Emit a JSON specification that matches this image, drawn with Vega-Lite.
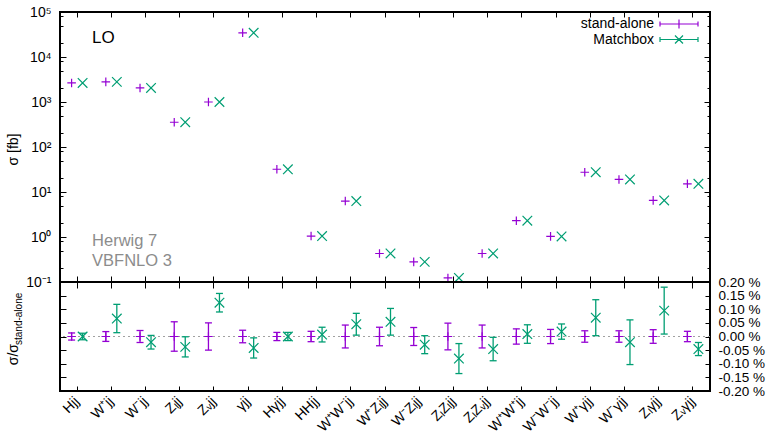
{
  "$schema": "https://vega.github.io/schema/vega-lite/v6.json",
  "padding": {"left": 5, "top": 4, "right": 0, "bottom": 0},
  "bounds": "flush",
  "spacing": 0,
  "config": {
    "font": "Liberation Sans",
    "view": {"stroke": "black", "strokeWidth": 2},
    "axis": {
      "grid": false, "domain": false,
      "labelFont": "Liberation Sans", "labelFontSize": 14, "labelColor": "black",
      "titleFont": "Liberation Sans", "titleFontSize": 14, "titleFontWeight": "normal", "titleColor": "black",
      "tickColor": "black", "tickWidth": 1,
      "labelOverlap": false, "labelBound": false, "labelFlush": false
    }
  },
  "datasets": {
    "xs": [
      {"proc": "Hjj", "series": "stand-alone", "sigma": 2650}, {"proc": "Hjj", "series": "Matchbox", "sigma": 2650},
      {"proc": "W⁺jj", "series": "stand-alone", "sigma": 2800}, {"proc": "W⁺jj", "series": "Matchbox", "sigma": 2800},
      {"proc": "W⁻jj", "series": "stand-alone", "sigma": 2050}, {"proc": "W⁻jj", "series": "Matchbox", "sigma": 2050},
      {"proc": "Zₗjj", "series": "stand-alone", "sigma": 355}, {"proc": "Zₗjj", "series": "Matchbox", "sigma": 355},
      {"proc": "Zᵥjj", "series": "stand-alone", "sigma": 1000}, {"proc": "Zᵥjj", "series": "Matchbox", "sigma": 1000},
      {"proc": "γjj", "series": "stand-alone", "sigma": 34500}, {"proc": "γjj", "series": "Matchbox", "sigma": 34500},
      {"proc": "Hγjj", "series": "stand-alone", "sigma": 32}, {"proc": "Hγjj", "series": "Matchbox", "sigma": 32},
      {"proc": "HHjj", "series": "stand-alone", "sigma": 1.05}, {"proc": "HHjj", "series": "Matchbox", "sigma": 1.05},
      {"proc": "W⁺W⁻jj", "series": "stand-alone", "sigma": 6.3}, {"proc": "W⁺W⁻jj", "series": "Matchbox", "sigma": 6.3},
      {"proc": "W⁺Zₗjj", "series": "stand-alone", "sigma": 0.43}, {"proc": "W⁺Zₗjj", "series": "Matchbox", "sigma": 0.43},
      {"proc": "W⁻Zₗjj", "series": "stand-alone", "sigma": 0.28}, {"proc": "W⁻Zₗjj", "series": "Matchbox", "sigma": 0.28},
      {"proc": "ZₗZₗjj", "series": "stand-alone", "sigma": 0.123}, {"proc": "ZₗZₗjj", "series": "Matchbox", "sigma": 0.123},
      {"proc": "ZₗZᵥjj", "series": "stand-alone", "sigma": 0.43}, {"proc": "ZₗZᵥjj", "series": "Matchbox", "sigma": 0.43},
      {"proc": "W⁺W⁺jj", "series": "stand-alone", "sigma": 2.3}, {"proc": "W⁺W⁺jj", "series": "Matchbox", "sigma": 2.3},
      {"proc": "W⁻W⁻jj", "series": "stand-alone", "sigma": 1.03}, {"proc": "W⁻W⁻jj", "series": "Matchbox", "sigma": 1.03},
      {"proc": "W⁺γjj", "series": "stand-alone", "sigma": 27.5}, {"proc": "W⁺γjj", "series": "Matchbox", "sigma": 27.5},
      {"proc": "W⁻γjj", "series": "stand-alone", "sigma": 19}, {"proc": "W⁻γjj", "series": "Matchbox", "sigma": 19},
      {"proc": "Zₗγjj", "series": "stand-alone", "sigma": 6.5}, {"proc": "Zₗγjj", "series": "Matchbox", "sigma": 6.5},
      {"proc": "Zᵥγjj", "series": "stand-alone", "sigma": 15.2}, {"proc": "Zᵥγjj", "series": "Matchbox", "sigma": 15.2}
    ],
    "ratio": [
      {"proc": "Hjj", "series": "stand-alone", "val": 0, "lo": -0.013, "hi": 0.013},
      {"proc": "W⁺jj", "series": "stand-alone", "val": 0, "lo": -0.018, "hi": 0.018},
      {"proc": "W⁻jj", "series": "stand-alone", "val": 0, "lo": -0.022, "hi": 0.022},
      {"proc": "Zₗjj", "series": "stand-alone", "val": 0, "lo": -0.054, "hi": 0.054},
      {"proc": "Zᵥjj", "series": "stand-alone", "val": 0, "lo": -0.05, "hi": 0.05},
      {"proc": "γjj", "series": "stand-alone", "val": 0, "lo": -0.023, "hi": 0.023},
      {"proc": "Hγjj", "series": "stand-alone", "val": 0, "lo": -0.015, "hi": 0.015},
      {"proc": "HHjj", "series": "stand-alone", "val": 0, "lo": -0.019, "hi": 0.019},
      {"proc": "W⁺W⁻jj", "series": "stand-alone", "val": 0, "lo": -0.042, "hi": 0.042},
      {"proc": "W⁺Zₗjj", "series": "stand-alone", "val": 0, "lo": -0.034, "hi": 0.034},
      {"proc": "W⁻Zₗjj", "series": "stand-alone", "val": 0, "lo": -0.033, "hi": 0.033},
      {"proc": "ZₗZₗjj", "series": "stand-alone", "val": 0, "lo": -0.049, "hi": 0.049},
      {"proc": "ZₗZᵥjj", "series": "stand-alone", "val": 0, "lo": -0.042, "hi": 0.042},
      {"proc": "W⁺W⁺jj", "series": "stand-alone", "val": 0, "lo": -0.028, "hi": 0.028},
      {"proc": "W⁻W⁻jj", "series": "stand-alone", "val": 0, "lo": -0.026, "hi": 0.026},
      {"proc": "W⁺γjj", "series": "stand-alone", "val": 0, "lo": -0.021, "hi": 0.021},
      {"proc": "W⁻γjj", "series": "stand-alone", "val": 0, "lo": -0.021, "hi": 0.021},
      {"proc": "Zₗγjj", "series": "stand-alone", "val": 0, "lo": -0.025, "hi": 0.025},
      {"proc": "Zᵥγjj", "series": "stand-alone", "val": 0, "lo": -0.019, "hi": 0.019},
      {"proc": "Hjj", "series": "Matchbox", "val": 0.0, "lo": -0.012, "hi": 0.012},
      {"proc": "W⁺jj", "series": "Matchbox", "val": 0.066, "lo": 0.014, "hi": 0.118},
      {"proc": "W⁻jj", "series": "Matchbox", "val": -0.021, "lo": -0.046, "hi": 0.004},
      {"proc": "Zₗjj", "series": "Matchbox", "val": -0.038, "lo": -0.075, "hi": -0.001},
      {"proc": "Zᵥjj", "series": "Matchbox", "val": 0.124, "lo": 0.09, "hi": 0.158},
      {"proc": "γjj", "series": "Matchbox", "val": -0.042, "lo": -0.079, "hi": -0.005},
      {"proc": "Hγjj", "series": "Matchbox", "val": 0.0, "lo": -0.015, "hi": 0.015},
      {"proc": "HHjj", "series": "Matchbox", "val": 0.007, "lo": -0.02, "hi": 0.034},
      {"proc": "W⁺W⁻jj", "series": "Matchbox", "val": 0.045, "lo": 0.005, "hi": 0.085},
      {"proc": "W⁺Zₗjj", "series": "Matchbox", "val": 0.054, "lo": 0.005, "hi": 0.103},
      {"proc": "W⁻Zₗjj", "series": "Matchbox", "val": -0.03, "lo": -0.063, "hi": 0.003},
      {"proc": "ZₗZₗjj", "series": "Matchbox", "val": -0.081, "lo": -0.136, "hi": -0.026},
      {"proc": "ZₗZᵥjj", "series": "Matchbox", "val": -0.046, "lo": -0.089, "hi": -0.003},
      {"proc": "W⁺W⁺jj", "series": "Matchbox", "val": 0.009, "lo": -0.025, "hi": 0.043},
      {"proc": "W⁻W⁻jj", "series": "Matchbox", "val": 0.018, "lo": -0.01, "hi": 0.046},
      {"proc": "W⁺γjj", "series": "Matchbox", "val": 0.069, "lo": 0.003, "hi": 0.135},
      {"proc": "W⁻γjj", "series": "Matchbox", "val": -0.021, "lo": -0.103, "hi": 0.061},
      {"proc": "Zₗγjj", "series": "Matchbox", "val": 0.095, "lo": 0.009, "hi": 0.181},
      {"proc": "Zᵥγjj", "series": "Matchbox", "val": -0.046, "lo": -0.07, "hi": -0.022}
    ],
    "notes": [
      {"proc": "Hjj", "sigma": 27000, "note": "LO", "kind": "order"},
      {"proc": "Hjj", "sigma": 0.8, "note": "Herwig 7", "kind": "tool"},
      {"proc": "Hjj", "sigma": 0.3, "note": "VBFNLO 3", "kind": "tool"}
    ],
    "zero": [{"zero": 0}]
  },
  "vconcat": [
    {
      "width": 650,
      "height": 270,
      "resolve": {"axis": {"x": "independent", "y": "independent"}},
      "layer": [
        {
          "data": {"name": "xs"},
          "transform": [{"filter": "datum.series === 'stand-alone'"}],
          "mark": {"type": "point", "shape": "M-1,0H1M0,-1V1", "filled": false, "size": 74, "strokeWidth": 1.2, "opacity": 1, "color": "#9400d3", "xOffset": -5.5},
          "encoding": {
            "x": {"field": "proc", "type": "nominal",
              "scale": {"type": "band", "domain": ["Hjj","W⁺jj","W⁻jj","Zₗjj","Zᵥjj","γjj","Hγjj","HHjj","W⁺W⁻jj","W⁺Zₗjj","W⁻Zₗjj","ZₗZₗjj","ZₗZᵥjj","W⁺W⁺jj","W⁻W⁻jj","W⁺γjj","W⁻γjj","Zₗγjj","Zᵥγjj"], "paddingInner": 0, "paddingOuter": 0},
              "axis": {"orient": "bottom", "labels": false, "tickSize": -6, "title": null}},
            "y": {"field": "sigma", "type": "quantitative",
              "scale": {"type": "log", "domain": [0.1, 100000], "nice": false},
              "axis": {"orient": "left", "ticks": false, "values": [0.1, 1, 10, 100, 1000, 10000, 100000],
                "labelExpr": "['10⁻¹','10⁰','10¹','10²','10³','10⁴','10⁵'][round(log(datum.value)/LN10)+1]",
                "labelPadding": 9, "labelBaseline": "middle",
                "title": "σ [fb]", "titleAngle": 270, "titleBaseline": "alphabetic", "titleAlign": "center", "titleX": -43, "titleY": 137}}
          }
        },
        {
          "data": {"name": "xs"},
          "transform": [{"filter": "datum.series === 'Matchbox'"}],
          "mark": {"type": "point", "shape": "M-1,-1L1,1M-1,1L1,-1", "filled": false, "size": 92, "strokeWidth": 1.2, "opacity": 1, "color": "#009e73", "xOffset": 5.5},
          "encoding": {
            "x": {"field": "proc", "type": "nominal", "axis": {"orient": "top", "labels": false, "tickSize": -5, "title": null}},
            "y": {"field": "sigma", "type": "quantitative",
              "axis": {"orient": "left", "labels": false, "tickSize": -6, "values": [0.1, 1, 10, 100, 1000, 10000, 100000], "title": null}}
          }
        },
        {
          "data": {"name": "notes"},
          "transform": [{"filter": "datum.kind === 'order'"}],
          "mark": {"type": "text", "align": "left", "baseline": "middle", "dx": 15, "fontSize": 17, "color": "black", "font": "Liberation Sans"},
          "encoding": {
            "x": {"field": "proc", "type": "nominal", "axis": null},
            "y": {"field": "sigma", "type": "quantitative",
              "axis": {"orient": "left", "labels": false, "tickSize": -3, "values": [0.2, 0.5, 0.8, 2, 5, 8, 20, 50, 80, 200, 500, 800, 2000, 5000, 8000, 20000, 50000, 80000], "title": null}},
            "text": {"field": "note"}
          }
        },
        {
          "data": {"name": "notes"},
          "transform": [{"filter": "datum.kind === 'tool'"}],
          "mark": {"type": "text", "align": "left", "baseline": "middle", "dx": 15, "fontSize": 16.5, "color": "#8c8c8c", "font": "Liberation Sans"},
          "encoding": {
            "x": {"field": "proc", "type": "nominal", "axis": null},
            "y": {"field": "sigma", "type": "quantitative",
              "axis": {"orient": "right", "labels": false, "tickSize": -6, "values": [0.1, 1, 10, 100, 1000, 10000, 100000], "title": null}},
            "text": {"field": "note"}
          }
        },
        {
          "data": {"name": "xs"},
          "mark": {"type": "point", "filled": false, "size": 0, "strokeWidth": 1.2, "opacity": 1},
          "encoding": {
            "x": {"field": "proc", "type": "nominal", "axis": null},
            "y": {"field": "sigma", "type": "quantitative",
              "axis": {"orient": "right", "labels": false, "tickSize": -3, "values": [0.2, 0.5, 0.8, 2, 5, 8, 20, 50, 80, 200, 500, 800, 2000, 5000, 8000, 20000, 50000, 80000], "title": null}},
            "color": {"field": "series", "type": "nominal",
              "scale": {"domain": ["stand-alone", "Matchbox"], "range": ["#9400d3", "#009e73"]},
              "legend": {"title": null, "orient": "none", "legendX": 612, "legendY": 5, "padding": 0,
                "labelAlign": "right", "labelOffset": -32, "labelFontSize": 14, "labelFont": "Liberation Sans", "labelColor": "black",
                "symbolSize": 100, "symbolStrokeWidth": 1.2, "symbolFillColor": "transparent", "symbolOpacity": 1, "rowPadding": 1.5}},
            "shape": {"field": "series", "type": "nominal",
              "scale": {"domain": ["stand-alone", "Matchbox"],
                "range": ["M-3.8,0H3.8M-3.8,-0.5V0.5M3.8,-0.5V0.5M0,-0.9V0.9",
                          "M-3.8,0H3.8M-3.8,-0.5V0.5M3.8,-0.5V0.5M-0.8,-0.8L0.8,0.8M-0.8,0.8L0.8,-0.8"]},
              "legend": {"title": null, "orient": "none", "legendX": 612, "legendY": 5, "padding": 0,
                "labelAlign": "right", "labelOffset": -32, "labelFontSize": 14, "labelFont": "Liberation Sans", "labelColor": "black",
                "symbolSize": 100, "symbolStrokeWidth": 1.2, "symbolFillColor": "transparent", "symbolOpacity": 1, "rowPadding": 1.5}}
          }
        }
      ]
    },
    {
      "width": 650,
      "height": 109,
      "resolve": {"axis": {"x": "independent", "y": "independent"}},
      "layer": [
        {
          "data": {"name": "zero"},
          "mark": {"type": "rule", "color": "#a0a0a0", "strokeDash": [2, 3], "strokeWidth": 1},
          "encoding": {
            "y": {"field": "zero", "type": "quantitative", "scale": {"domain": [-0.2, 0.2], "nice": false, "zero": false}, "axis": null}
          }
        },
        {
          "data": {"name": "ratio"},
          "transform": [{"filter": "datum.series === 'stand-alone'"}],
          "mark": {"type": "rule", "color": "#9400d3", "strokeWidth": 1.3, "xOffset": -5.5},
          "encoding": {
            "x": {"field": "proc", "type": "nominal",
              "scale": {"type": "band", "domain": ["Hjj","W⁺jj","W⁻jj","Zₗjj","Zᵥjj","γjj","Hγjj","HHjj","W⁺W⁻jj","W⁺Zₗjj","W⁻Zₗjj","ZₗZₗjj","ZₗZᵥjj","W⁺W⁺jj","W⁻W⁻jj","W⁺γjj","W⁻γjj","Zₗγjj","Zᵥγjj"], "paddingInner": 0, "paddingOuter": 0},
              "axis": {"orient": "bottom", "ticks": false, "labelAngle": -45, "labelAlign": "right", "labelBaseline": "middle", "labelPadding": 8, "title": null}},
            "y": {"field": "lo", "type": "quantitative",
              "axis": {"orient": "right", "ticks": false, "values": [-0.2, -0.15, -0.1, -0.05, 0, 0.05, 0.1, 0.15, 0.2],
                "labelExpr": "(datum.value < 0 ? '-' : '\u00a0') + format(abs(datum.value), '.2f') + ' %'",
                "labelFontSize": 13.5, "labelPadding": 8, "labelBaseline": "middle", "title": null}},
            "y2": {"field": "hi"}
          }
        },
        {
          "data": {"name": "ratio"},
          "transform": [{"filter": "datum.series === 'stand-alone'"}],
          "mark": {"type": "tick", "orient": "horizontal", "color": "#9400d3", "size": 7, "thickness": 1.3, "opacity": 1, "xOffset": -5.5},
          "encoding": {
            "x": {"field": "proc", "type": "nominal", "axis": {"orient": "bottom", "labels": false, "tickSize": -5, "title": null}},
            "y": {"field": "lo", "type": "quantitative",
              "axis": {"orient": "right", "labels": false, "tickSize": -5, "values": [-0.15, -0.1, -0.05, 0, 0.05, 0.1, 0.15], "title": null}}
          }
        },
        {
          "data": {"name": "ratio"},
          "transform": [{"filter": "datum.series === 'stand-alone'"}],
          "mark": {"type": "tick", "orient": "horizontal", "color": "#9400d3", "size": 7, "thickness": 1.3, "opacity": 1, "xOffset": -5.5},
          "encoding": {
            "x": {"field": "proc", "type": "nominal", "axis": {"orient": "top", "labels": false, "tickSize": -6, "title": null}},
            "y": {"field": "hi", "type": "quantitative",
              "axis": {"orient": "left", "labels": false, "tickSize": -6, "values": [-0.15, -0.1, -0.05, 0, 0.05, 0.1, 0.15],
                "title": "σ/σ", "titleAngle": 270, "titleBaseline": "alphabetic", "titleAlign": "left", "titleX": -42.5, "titleY": 82.7}}
          }
        },
        {
          "data": {"name": "ratio"},
          "transform": [{"filter": "datum.series === 'stand-alone'"}],
          "mark": {"type": "point", "shape": "M-1,0H1M0,-1V1", "filled": false, "size": 74, "strokeWidth": 1.2, "opacity": 1, "color": "#9400d3", "xOffset": -5.5},
          "encoding": {
            "x": {"field": "proc", "type": "nominal", "axis": null},
            "y": {"field": "val", "type": "quantitative",
              "axis": {"orient": "left", "labels": false, "ticks": false, "values": [0],
                "title": "stand-alone", "titleFontSize": 10, "titleAngle": 270, "titleBaseline": "alphabetic", "titleAlign": "left", "titleX": -38.5, "titleY": 62.5}}
          }
        },
        {
          "data": {"name": "ratio"},
          "transform": [{"filter": "datum.series === 'Matchbox'"}],
          "mark": {"type": "rule", "color": "#009e73", "strokeWidth": 1.3, "xOffset": 5.5},
          "encoding": {
            "x": {"field": "proc", "type": "nominal", "axis": null},
            "y": {"field": "lo", "type": "quantitative", "axis": null},
            "y2": {"field": "hi"}
          }
        },
        {
          "data": {"name": "ratio"},
          "transform": [{"filter": "datum.series === 'Matchbox'"}],
          "mark": {"type": "tick", "orient": "horizontal", "color": "#009e73", "size": 7, "thickness": 1.3, "opacity": 1, "xOffset": 5.5},
          "encoding": {
            "x": {"field": "proc", "type": "nominal", "axis": null},
            "y": {"field": "lo", "type": "quantitative", "axis": null}
          }
        },
        {
          "data": {"name": "ratio"},
          "transform": [{"filter": "datum.series === 'Matchbox'"}],
          "mark": {"type": "tick", "orient": "horizontal", "color": "#009e73", "size": 7, "thickness": 1.3, "opacity": 1, "xOffset": 5.5},
          "encoding": {
            "x": {"field": "proc", "type": "nominal", "axis": null},
            "y": {"field": "hi", "type": "quantitative", "axis": null}
          }
        },
        {
          "data": {"name": "ratio"},
          "transform": [{"filter": "datum.series === 'Matchbox'"}],
          "mark": {"type": "point", "shape": "M-1,-1L1,1M-1,1L1,-1", "filled": false, "size": 92, "strokeWidth": 1.2, "opacity": 1, "color": "#009e73", "xOffset": 5.5},
          "encoding": {
            "x": {"field": "proc", "type": "nominal", "axis": null},
            "y": {"field": "val", "type": "quantitative", "axis": null}
          }
        }
      ]
    }
  ]
}
